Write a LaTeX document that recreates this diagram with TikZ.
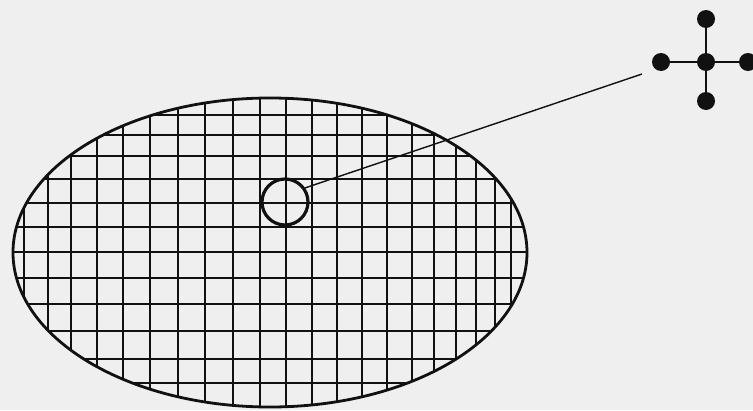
\documentclass[tikz,border=0pt]{standalone}
\usepackage{xcolor}
\usepackage{tikz}
\usetikzlibrary{shapes.geometric}
\definecolor{paper}{HTML}{EFEFEF}
\definecolor{ink}{HTML}{111111}

\begin{document}
\begin{tikzpicture}[
  x=1pt, y=-1pt,
  wafer/.style={draw=ink, ellipse, line width=2.8pt, minimum width=514pt, minimum height=309pt, inner sep=0pt},
  die/.style={draw=ink, circle, line width=3.2pt, minimum size=46pt, inner sep=0pt},
  grid line/.style={draw=ink, line width=2pt},
  atom/.style={circle, fill=ink, minimum size=18pt, inner sep=0pt},
  bond/.style={draw=ink, line width=1.6pt},
  lead/.style={draw=ink, line width=1.4pt}
]
\fill[paper] (0,0) rectangle (753,410);
\useasboundingbox (0,0) rectangle (753,410);

% grid on the wafer
\begin{scope}
  \clip (270,252.5) ellipse [x radius=257, y radius=154.5];
  \foreach \gx in {24,48,71,97,123,150,178,205,233,260,286,312,337,362,387,412,434,456,476,495,511}
    \draw[grid line] (\gx,90) -- (\gx,415);
  \foreach \gy in {115,135,156,179,203,227,252,278,304,331,359,383}
    \draw[grid line] (0,\gy) -- (540,\gy);
\end{scope}
\node[wafer] (wafer) at (270,252.5) {};
\node[die] (spot) at (285,202) {};

% magnified cell
\node[atom] (mid) at (706,62) {};
\node[atom] (up) at (706,19) {};
\node[atom] (down) at (706,101) {};
\node[atom] (left) at (661,62) {};
\node[atom] (right) at (748,62) {};
\draw[bond] (up) -- (mid) -- (down);
\draw[bond] (left) -- (mid) -- (right);

\coordinate (tail) at (642,74);
\draw[lead] (spot.35) -- (tail);
\end{tikzpicture}
\end{document}
